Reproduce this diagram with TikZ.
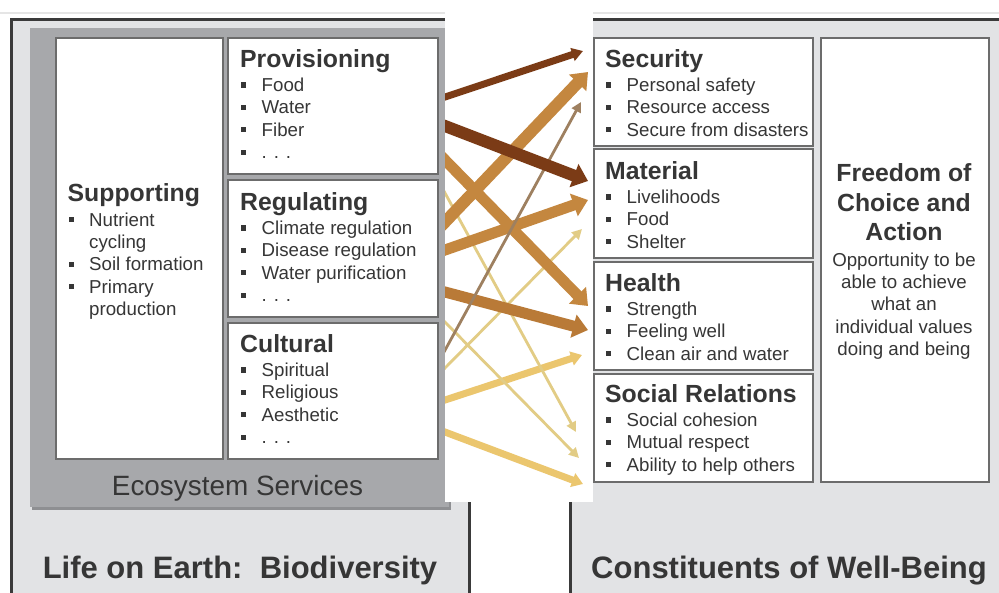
\documentclass[tikz,border=0pt]{standalone}
\usepackage{fontspec}
\setmainfont{Liberation Sans}
\usetikzlibrary{arrows.meta}
\definecolor{panelfill}{HTML}{E2E3E5}
\definecolor{panelline}{HTML}{3A3A3A}
\definecolor{ecofill}{HTML}{A7A8AB}
\definecolor{ecoshade}{HTML}{8E8F92}
\definecolor{boxline}{HTML}{6C6C6C}
\definecolor{txt}{HTML}{363636}
\definecolor{darkbrown}{HTML}{7B3B16}
\definecolor{tan}{HTML}{C4873F}
\definecolor{tandark}{HTML}{B97A37}
\definecolor{graybrown}{HTML}{9E8060}
\definecolor{paleY}{HTML}{EBC66E}
\definecolor{paleT}{HTML}{E2CC85}
\newcommand\ttlfont{\fontsize{24.8}{29.5}\selectfont\bfseries}
\newcommand\itmfont{\fontsize{18.7}{22.4}\selectfont\mdseries}
\newcommand\bul{\hspace*{1pt}\rule[3.9pt]{5.2pt}{5.2pt}\hspace*{15.3pt}}
\newcommand\blk[2]{\parbox[t]{215pt}{\ttlfont #1\par\vspace{2.1pt}\itmfont #2}}
\begin{document}
\begin{tikzpicture}[x=1pt,y=-1pt,
  wbox/.style={draw=boxline,line width=1.7pt,fill=white,inner sep=0pt,anchor=north west},
  btxt/.style={anchor=base west,inner sep=0pt,text=txt},
  arTan/.style={draw=tan,line width=11pt,-{Triangle[length=15pt,width=23pt]}},
  arDark/.style={draw=darkbrown,-{Triangle[length=15pt,width=24pt]}},
  arThin/.style={line width=2.8pt,-{Triangle[length=10pt,width=10pt]}},
  arPale/.style={draw=paleY,line width=7pt,-{Triangle[length=11pt,width=14pt]}}]
\useasboundingbox (0,0) rectangle (999,592);
\fill[white] (0,0) rectangle (999,592);
% faint top line
\draw[draw=black!10,line width=1.5pt] (0,13) -- (999,13);
% outer panels
\draw[fill=panelfill,draw=panelline,line width=3pt] (11.3,19) rectangle (469,620);
\draw[fill=panelfill,draw=panelline,line width=3pt] (570,19.5) rectangle (1020,620);
% ecosystem services box
\fill[ecoshade] (32,30) rectangle (451,510);
\fill[ecofill] (30,28) rectangle (449,507);
% left boxes
\node[wbox,minimum width=167pt,minimum height=421pt] (sup) at (55,37) {};
\node[wbox,minimum width=210pt,minimum height=136pt] (prov) at (227,37) {};
\node[wbox,minimum width=210pt,minimum height=137pt] (reg) at (227,179) {};
\node[wbox,minimum width=210pt,minimum height=136pt] (cult) at (227,322) {};
% right boxes
\node[wbox,minimum width=219pt,minimum height=108pt] (sec) at (593,37) {};
\node[wbox,minimum width=219pt,minimum height=109pt] (mat) at (593,148) {};
\node[wbox,minimum width=219pt,minimum height=108pt] (hea) at (593,261) {};
\node[wbox,minimum width=219pt,minimum height=108pt] (soc) at (593,373) {};
\node[wbox,minimum width=168pt,minimum height=444pt] (free) at (820,37) {};
% texts left
\node[btxt] (supT) at (67.5,201.5) {\blk{Supporting}{\bul Nutrient\par\hspace*{21.5pt}cycling\par\bul Soil formation\par\bul Primary\par\hspace*{21.5pt}production}};
\node[btxt] (provT) at (240,67) {\blk{Provisioning}{\bul Food\par\bul Water\par\bul Fiber\par\bul . . .}};
\node[btxt] (regT) at (240,210) {\blk{Regulating}{\bul Climate regulation\par\bul Disease regulation\par\bul Water purification\par\bul . . .}};
\node[btxt] (cultT) at (240,352) {\blk{Cultural}{\bul Spiritual\par\bul Religious\par\bul Aesthetic\par\bul . . .}};
% texts right
\node[btxt] (secT) at (605,67) {\blk{Security}{\bul Personal safety\par\bul Resource access\par\bul Secure from disasters}};
\node[btxt] (matT) at (605,179) {\blk{Material}{\bul Livelihoods\par\bul Food\par\bul Shelter}};
\node[btxt] (heaT) at (605,291) {\blk{Health}{\bul Strength\par\bul Feeling well\par\bul Clean air and water}};
\node[btxt] (socT) at (605,402) {\blk{Social Relations}{\bul Social cohesion\par\bul Mutual respect\par\bul Ability to help others}};
\node[anchor=base,inner sep=0pt,text=txt] (freeT) at (904,181.7) {\parbox[t]{170pt}{\centering\ttlfont Freedom of\\Choice and\\Action\par\vspace{2.9pt}\itmfont Opportunity to be\\able to achieve\\what an\\individual values\\doing and being}};
% panel labels
\node[anchor=base,inner sep=0pt,text=txt,font=\fontsize{27.9}{30}\selectfont] (eco) at (237.5,495) {Ecosystem Services};
\node[anchor=base,inner sep=0pt,text=txt,font=\fontsize{31}{32}\selectfont\bfseries] (life) at (240,578) {Life on Earth:\ \ Biodiversity};
\node[anchor=base,inner sep=0pt,text=txt,font=\fontsize{31}{32}\selectfont\bfseries] (cons) at (789,578) {Constituents of Well-Being};
% white arrow field
\coordinate (wA) at (445,0);
\coordinate (wB) at (593,502);
\fill[white] (wA) rectangle (wB);
% arrow end points
\coordinate (s1) at (425,103.7);  \coordinate (t1) at (583,51);
\coordinate (s2) at (425,243);    \coordinate (t2) at (588,72);
\coordinate (s3) at (425,386.7);  \coordinate (t3) at (581,102);
\coordinate (s4) at (425,118.3);  \coordinate (t4) at (588,181);
\coordinate (s5) at (425,257);    \coordinate (t5) at (588,200);
\coordinate (s6) at (425,388.3);  \coordinate (t6) at (582,229);
\coordinate (s7) at (425,139.6);  \coordinate (t7) at (588,306);
\coordinate (s8) at (425,286.7);  \coordinate (t8) at (588,330);
\coordinate (s9) at (425,406.6);  \coordinate (t9) at (582,355);
\coordinate (s10) at (425,156.5); \coordinate (t10) at (576,432);
\coordinate (s11) at (425,301.7); \coordinate (t11) at (579,458);
\coordinate (s12) at (425,424.5); \coordinate (t12) at (583,484);
\begin{scope}
\clip (wA) rectangle (wB);
\draw[arPale] (s12) -- (t12);
\draw[arPale] (s9) -- (t9);
\draw[arThin,draw=paleT] (s11) -- (t11);
\draw[arThin,draw=paleT] (s10) -- (t10);
\draw[arThin,draw=paleT] (s6) -- (t6);
\draw[arTan,draw=tandark] (s8) -- (t8);
\draw[arTan] (s7) -- (t7);
\draw[arTan] (s5) -- (t5);
\draw[arTan,line width=12pt] (s2) -- (t2);
\draw[arThin,draw=graybrown] (s3) -- (t3);
\draw[arDark,line width=12pt] (s4) -- (t4);
\draw[draw=darkbrown,line width=7pt,-{Triangle[length=11pt,width=13pt]}] (s1) -- (t1);
\end{scope}
\end{tikzpicture}
\end{document}
